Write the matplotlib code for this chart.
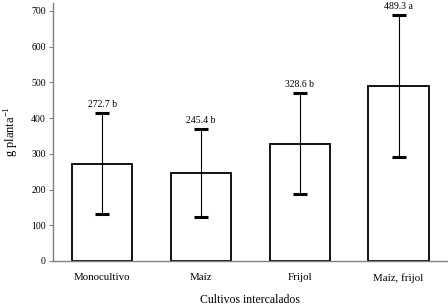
import matplotlib
matplotlib.use('Agg')
import matplotlib.pyplot as plt
import numpy as np

plt.rcParams['font.family'] = ['Liberation Serif', 'DejaVu Serif']

# datos
cultivos = ['Monocultivo', 'Maíz', 'Frijol', 'Maíz, frijol']
medias = [272.7, 245.4, 328.6, 489.3]
errores = [142, 123, 141, 198]
letras = ['b', 'b', 'b', 'a']

fig = plt.figure(figsize=(4.48, 3.07), dpi=100)
ax = fig.add_axes([0.118, 0.15, 0.882, 0.84])

x = np.arange(len(cultivos))
ax.bar(x, medias, width=0.61, color='white', edgecolor='black', linewidth=1.3, zorder=2)
ax.errorbar(x, medias, yerr=errores, fmt='none', ecolor='black', elinewidth=0.8,
            capsize=5, capthick=2.2, zorder=3)

for xi, m, e, l in zip(x, medias, errores, letras):
    ax.text(xi, m + e + 12, f'{m} {l}', ha='center', va='bottom', fontsize=7)

ax.set_xlim(-0.5, 3.5)
ax.set_ylim(0, 722)
ax.set_yticks(range(0, 701, 100))
ax.set_xticks(x)
ax.set_xticklabels(cultivos, fontsize=7.8)
ax.tick_params(axis='y', labelsize=7, length=3, color='#808080', pad=2)
ax.tick_params(axis='x', length=0, pad=9)

for s in ['top', 'right']:
    ax.spines[s].set_visible(False)
for s in ['left', 'bottom']:
    ax.spines[s].set_color('#808080')
    ax.spines[s].set_linewidth(1.0)

ax.set_ylabel('g planta$^{\\mathregular{-1}}$', fontsize=9, labelpad=7)
ax.set_xlabel('Cultivos intercalados', fontsize=8.5, labelpad=8)

fig.savefig('out.png', dpi=100)
